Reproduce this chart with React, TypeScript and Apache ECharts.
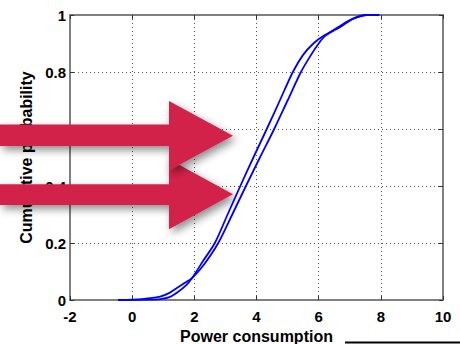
import React, { useEffect, useRef } from "react";
import * as echarts from "echarts";

// Curve A: fatter lower tail, right-hand curve after the crossing near x = 2
const curveAX = [-0.45, 0.0, 0.4, 0.9, 1.2, 1.45, 1.75, 1.92, 2.3, 2.77, 3.22, 3.66, 4.11, 4.57, 5.0, 5.43, 5.72, 6.0, 6.2, 6.7, 7.1, 7.55, 7.95];
const curveAY = [0, 0.001, 0.004, 0.012, 0.025, 0.043, 0.064, 0.076, 0.123, 0.2, 0.3, 0.4, 0.5, 0.6, 0.7, 0.8, 0.854, 0.9, 0.926, 0.962, 0.987, 1.0, 1.0];

// Curve B: steeper, left-hand curve after the crossing
const curveBX = [-0.45, 0.5, 0.9, 1.2, 1.45, 1.75, 1.92, 2.3, 2.66, 3.07, 3.48, 3.9, 4.33, 4.75, 5.17, 5.5, 5.83, 6.15, 6.7, 7.1, 7.55, 7.95];
const curveBY = [0, 0.001, 0.003, 0.01, 0.026, 0.053, 0.076, 0.14, 0.2, 0.3, 0.4, 0.5, 0.6, 0.7, 0.8, 0.86, 0.9, 0.926, 0.958, 0.986, 1.0, 1.0];

const xTitle = "Power consumption";
const yTitle = "Cumulative probability";

const FONT = "'Liberation Sans', Arial, Helvetica, sans-serif";

export default function App() {
  const ref = useRef<HTMLDivElement>(null);

  useEffect(() => {
    if (!ref.current) return;
    const chart = echarts.init(ref.current, undefined, { renderer: "svg" });

    const labelStyle = {
      color: "#000",
      fontFamily: FONT,
      fontWeight: "bold" as const,
      fontSize: 15,
    };
    const frameLine = { show: true, onZero: false, lineStyle: { color: "#808080", width: 2 } };
    const innerTick = { show: true, inside: true, length: 4, lineStyle: { color: "#333", width: 1 } };
    const gridLine = { show: true, lineStyle: { color: "#555", width: 1, type: [1, 3] as any } };

    const arrowStyle = {
      fill: "#d3234a",
      shadowBlur: 8,
      shadowOffsetX: 3,
      shadowOffsetY: 4,
      shadowColor: "rgba(0,0,0,0.45)",
    };

    chart.setOption({
      animation: false,
      backgroundColor: "#fff",
      grid: {
        left: 70,
        right: 17,
        top: 15,
        bottom: 44,
        show: false,
        containLabel: false,
        outerBoundsMode: "none",
      },
      xAxis: [
        {
          type: "value",
          min: -2,
          max: 10,
          interval: 2,
          position: "bottom",
          axisLine: frameLine,
          axisTick: innerTick,
          axisLabel: { ...labelStyle, margin: 9 },
          splitLine: gridLine,
          name: xTitle,
          nameLocation: "middle",
          nameGap: 27,
          nameTextStyle: { ...labelStyle, fontSize: 16 },
        },
        {
          type: "value",
          min: -2,
          max: 10,
          interval: 2,
          position: "top",
          axisLine: frameLine,
          axisTick: innerTick,
          axisLabel: { show: false },
          splitLine: { show: false },
        },
      ],
      yAxis: [
        {
          type: "value",
          min: 0,
          max: 1,
          interval: 0.2,
          position: "left",
          axisLine: frameLine,
          axisTick: innerTick,
          axisLabel: { ...labelStyle, margin: 4 },
          splitLine: gridLine,
          name: yTitle,
          nameLocation: "middle",
          nameGap: 29,
          nameTextStyle: { ...labelStyle, fontSize: 16 },
        },
        {
          type: "value",
          min: 0,
          max: 1,
          interval: 0.2,
          position: "right",
          axisLine: frameLine,
          axisTick: innerTick,
          axisLabel: { show: false },
          splitLine: { show: false },
        },
      ],
      series: [
        {
          type: "line",
          xAxisIndex: 0,
          yAxisIndex: 0,
          data: curveAX.map((x, i) => [x, curveAY[i]]),
          showSymbol: false,
          smooth: 0.3,
          lineStyle: { color: "#0000ff", width: 1.8 },
          z: 3,
        },
        {
          type: "line",
          xAxisIndex: 0,
          yAxisIndex: 0,
          data: curveBX.map((x, i) => [x, curveBY[i]]),
          showSymbol: false,
          smooth: 0.3,
          lineStyle: { color: "#0000ff", width: 1.8 },
          z: 3,
        },
      ],
      graphic: [
        {
          type: "polygon",
          z: 100,
          shape: {
            points: [
              [0, 184.3], [169, 184.3], [169, 159.3], [233, 194.3], [169, 229.3], [169, 205], [0, 205],
            ],
          },
          style: arrowStyle,
        },
        {
          type: "polygon",
          z: 101,
          shape: {
            points: [
              [0, 124.5], [169, 124.5], [169, 101], [233, 135.7], [169, 170.4], [169, 146], [0, 146],
            ],
          },
          style: arrowStyle,
        },
        {
          type: "rect",
          z: 100,
          shape: { x: 345, y: 341.5, width: 115, height: 2 },
          style: { fill: "#000" },
        },
      ],
    });

    return () => chart.dispose();
  }, []);

  return (
    <div
      ref={ref}
      style={{ position: "absolute", left: 0, top: 0, width: 460, height: 344 }}
    />
  );
}
